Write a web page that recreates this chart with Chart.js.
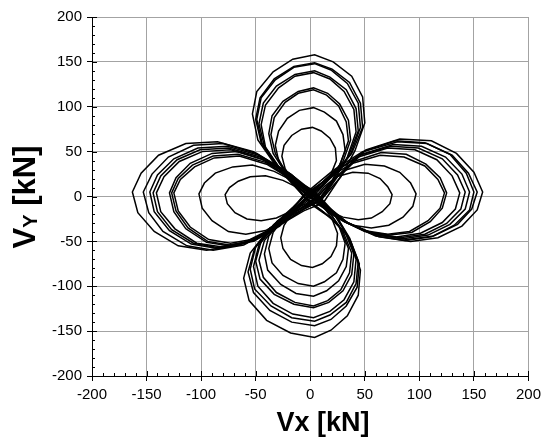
<!DOCTYPE html>
<html>
<head>
<meta charset="utf-8">
<script src="https://cdn.jsdelivr.net/npm/chart.js@4.4.1/dist/chart.umd.min.js"></script>
<style>
  html, body { margin: 0; padding: 0; background: #fff; }
</style>
</head>
<body>
<canvas id="grafico" width="546" height="448"></canvas>
<script>
// ── Ejes ─────────────────────────────────────
const ejeMin = -200;
const ejeMax = 200;
const pasoMayor = 50;

// ── Ciclos horizontales (Vx dominante), [Vx, Vy] en kN ──
const h1 = [[3,-3],[13,11],[24,22],[39,27],[53,26],[64,20],[71,11],[75,2],[73,-8],[66,-17],[56,-24],[44,-26],[30,-23],[17,-16],[8,-8],[3,-3],[-10,9],[-25,18],[-41,23],[-55,22],[-66,17],[-74,10],[-78,2],[-76,-8],[-69,-18],[-58,-25],[-45,-27],[-31,-24],[-17,-16],[-4,-8],[3,-3]];
const h2 = [[6,-2],[18,15],[31,29],[50,36],[68,34],[82,27],[92,15],[97,3],[94,-11],[85,-23],[72,-32],[56,-35],[39,-32],[21,-21],[11,-9],[6,-2],[-12,15],[-33,28],[-53,35],[-71,33],[-87,26],[-97,15],[-102,3],[-99,-13],[-90,-27],[-75,-39],[-59,-42],[-41,-38],[-22,-25],[-5,-10],[6,-2]];
const h3 = [[-2,2],[17,22],[39,37],[64,46],[86,44],[105,34],[117,19],[123,4],[119,-13],[108,-27],[91,-39],[71,-42],[49,-38],[27,-25],[9,-8],[-2,2],[-20,21],[-40,36],[-65,45],[-88,43],[-106,33],[-119,19],[-125,4],[-121,-16],[-110,-34],[-93,-48],[-73,-52],[-50,-47],[-28,-31],[-11,-10],[-2,2]];
const h4 = [[8,-5],[23,20],[40,39],[65,49],[88,47],[106,36],[119,21],[125,4],[121,-13],[110,-28],[93,-40],[73,-43],[50,-39],[28,-26],[14,-11],[8,-5],[-15,19],[-41,38],[-66,47],[-89,45],[-108,35],[-121,20],[-127,4],[-123,-16],[-112,-35],[-94,-50],[-74,-54],[-51,-49],[-28,-32],[-6,-14],[8,-5]];
const h5 = [[1,4],[21,27],[44,44],[71,54],[96,52],[116,41],[130,23],[137,4],[133,-14],[121,-29],[101,-41],[79,-45],[55,-41],[30,-27],[11,-8],[1,4],[-18,25],[-41,40],[-67,50],[-90,48],[-110,37],[-123,21],[-129,4],[-125,-17],[-114,-36],[-95,-51],[-75,-55],[-52,-50],[-28,-33],[-9,-10],[1,4]];
const h6 = [[10,-4],[26,24],[45,46],[74,56],[99,54],[121,42],[135,24],[142,5],[138,-14],[125,-30],[105,-42],[82,-46],[57,-41],[31,-28],[16,-12],[10,-4],[-16,22],[-45,42],[-73,52],[-99,50],[-120,39],[-134,22],[-141,4],[-137,-17],[-124,-36],[-104,-52],[-82,-56],[-56,-50],[-31,-34],[-6,-14],[10,-4]];
const h7 = [[-4,-2],[20,26],[47,47],[76,58],[102,56],[124,44],[139,25],[146,5],[142,-14],[128,-31],[108,-43],[85,-47],[58,-42],[32,-28],[10,-11],[-4,-2],[-24,24],[-46,44],[-75,54],[-101,52],[-122,41],[-137,23],[-144,4],[-140,-17],[-127,-37],[-107,-52],[-84,-57],[-58,-51],[-32,-34],[-14,-14],[-4,-2]];
const h8 = [[5,3],[25,29],[49,50],[80,61],[107,59],[130,46],[145,26],[153,5],[148,-14],[135,-31],[113,-44],[89,-48],[61,-43],[34,-29],[14,-10],[5,3],[-20,27],[-47,46],[-76,56],[-103,54],[-125,42],[-140,24],[-147,5],[-143,-17],[-129,-38],[-109,-53],[-85,-58],[-59,-52],[-32,-35],[-10,-12],[5,3]];
const h9 = [[12,-7],[30,26],[51,52],[82,64],[111,62],[134,48],[150,27],[158,5],[153,-15],[139,-33],[117,-46],[92,-50],[63,-45],[35,-30],[19,-14],[12,-7],[-17,24],[-49,48],[-80,59],[-107,57],[-130,44],[-145,25],[-153,5],[-148,-18],[-135,-39],[-113,-55],[-89,-60],[-61,-54],[-34,-36],[-6,-16],[12,-7]];
const h10 = [[-5,3],[21,29],[48,50],[78,62],[105,60],[128,47],[143,26],[150,5],[146,-15],[132,-32],[111,-45],[87,-49],[60,-44],[33,-29],[10,-10],[-5,3],[-26,29],[-52,50],[-85,61],[-114,59],[-139,46],[-155,26],[-163,5],[-158,-18],[-143,-39],[-121,-55],[-95,-60],[-65,-54],[-36,-36],[-15,-12],[-5,3]];

// ── Ciclos verticales (Vy dominante) ─────────
const v1 = [[2,2],[12,13],[19,25],[24,40],[23,54],[18,65],[10,73],[2,77],[-8,75],[-17,68],[-24,57],[-26,45],[-23,31],[-16,17],[-5,7],[2,2],[12,-11],[20,-25],[25,-41],[24,-55],[19,-67],[11,-75],[2,-79],[-8,-77],[-18,-70],[-25,-58],[-27,-46],[-24,-32],[-16,-17],[-5,-5],[2,2]];
const v2 = [[-4,-3],[12,13],[26,32],[32,51],[30,69],[24,84],[13,94],[3,99],[-10,96],[-21,87],[-29,73],[-32,57],[-29,40],[-19,22],[-9,6],[-4,-3],[12,-17],[26,-32],[32,-52],[30,-70],[24,-85],[13,-95],[3,-100],[-11,-97],[-25,-88],[-35,-74],[-38,-58],[-34,-40],[-23,-22],[-10,-10],[-4,-3]];
const v3 = [[6,-6],[19,15],[28,38],[35,62],[33,83],[26,101],[15,113],[3,119],[-11,115],[-23,105],[-33,88],[-36,69],[-32,48],[-22,26],[-5,7],[6,-6],[19,-20],[28,-36],[35,-58],[33,-78],[26,-94],[15,-105],[3,-111],[-13,-108],[-27,-98],[-39,-82],[-42,-64],[-38,-44],[-25,-24],[-6,-12],[6,-6]];
const v4 = [[-2,5],[16,20],[30,39],[37,63],[35,85],[27,103],[16,115],[3,121],[-11,117],[-25,106],[-35,90],[-38,70],[-34,48],[-23,27],[-9,12],[-2,5],[16,-15],[30,-39],[38,-63],[36,-85],[28,-104],[16,-116],[3,-122],[-14,-118],[-31,-107],[-43,-90],[-47,-71],[-42,-49],[-28,-27],[-11,-7],[-2,5]];
const v5 = [[9,-2],[23,20],[34,44],[42,72],[40,97],[31,117],[18,131],[3,138],[-14,134],[-29,121],[-41,102],[-45,80],[-41,55],[-27,30],[-5,10],[9,-2],[22,-20],[32,-40],[40,-64],[38,-87],[30,-105],[17,-118],[3,-124],[-15,-120],[-33,-109],[-46,-92],[-50,-72],[-45,-50],[-30,-27],[-6,-11],[9,-2]];
const v6 = [[0,-8],[20,17],[35,45],[44,73],[42,98],[33,119],[18,133],[4,140],[-14,136],[-31,123],[-43,104],[-47,81],[-42,56],[-28,31],[-10,7],[0,-8],[19,-24],[34,-43],[42,-70],[40,-95],[31,-115],[18,-128],[3,-135],[-16,-131],[-34,-119],[-48,-100],[-52,-78],[-47,-54],[-31,-30],[-11,-15],[0,-8]];
const v7 = [[4,6],[23,25],[37,47],[46,77],[44,104],[34,126],[19,141],[4,148],[-15,144],[-32,130],[-45,110],[-49,86],[-44,59],[-29,33],[-9,15],[4,6],[22,-18],[35,-44],[44,-72],[42,-97],[33,-118],[18,-132],[4,-139],[-17,-135],[-36,-122],[-51,-103],[-55,-81],[-50,-56],[-33,-31],[-10,-8],[4,6]];
const v8 = [[-6,0],[19,22],[38,48],[48,77],[46,104],[36,127],[20,142],[4,149],[-15,145],[-33,131],[-46,110],[-50,86],[-45,60],[-30,33],[-14,12],[-6,0],[17,-22],[36,-46],[45,-75],[43,-101],[33,-122],[19,-137],[4,-144],[-17,-140],[-37,-127],[-52,-107],[-57,-84],[-51,-58],[-34,-32],[-16,-12],[-6,0]];
const v9 = [[10,-4],[28,22],[41,51],[50,82],[48,111],[38,134],[21,150],[4,158],[-16,153],[-34,139],[-49,117],[-53,92],[-48,63],[-32,35],[-7,11],[10,-4],[26,-26],[37,-50],[46,-82],[44,-110],[34,-133],[19,-149],[4,-157],[-18,-152],[-40,-138],[-56,-116],[-61,-91],[-55,-63],[-37,-35],[-8,-15],[10,-4]];

const ciclos = [h1, v1, h2, v2, h3, v3, h4, v4, h5, v5, h6, v6, h7, v7, h8, v8, h9, v9, h10];

const fuente = "'Liberation Sans', Arial, sans-serif";

// Marcas interiores (menores cada 10, mayores cruzando el eje) y títulos con subíndice
const extrasEjes = {
    id: 'extrasEjes',
    afterDraw(chart) {
        const { ctx, chartArea: a, scales: { x, y } } = chart;
        ctx.save();
        ctx.strokeStyle = '#000';
        ctx.lineWidth = 1;
        ctx.beginPath();
        for (let v = ejeMin; v <= ejeMax; v += 10) {
            const largo = v % pasoMayor === 0 ? 5 : 3;
            const px = Math.round(x.getPixelForValue(v)) + 0.5;
            ctx.moveTo(px, a.bottom);
            ctx.lineTo(px, a.bottom - largo);
            const py = Math.round(y.getPixelForValue(v)) + 0.5;
            ctx.moveTo(a.left, py);
            ctx.lineTo(a.left + largo, py);
        }
        ctx.stroke();

        ctx.fillStyle = '#000';
        ctx.textBaseline = 'alphabetic';

        // Título X
        ctx.font = `bold 27px ${fuente}`;
        ctx.textAlign = 'center';
        ctx.fillText('Vx [kN]', 323, 431);

        // Título Y, girado
        ctx.translate(35, 197);
        ctx.rotate(-Math.PI / 2);
        ctx.textAlign = 'left';
        const partes = [
            { t: 'V', f: `bold 31px ${fuente}`, dy: 0 },
            { t: 'Y', f: `bold 20px ${fuente}`, dy: 2 },
            { t: ' [kN]', f: `bold 31px ${fuente}`, dy: 0 },
        ];
        let total = 0;
        partes.forEach(p => { ctx.font = p.f; p.w = ctx.measureText(p.t).width; total += p.w; });
        let cx = -total / 2;
        partes.forEach(p => {
            ctx.font = p.f;
            ctx.fillText(p.t, cx, p.dy);
            cx += p.w;
        });
        ctx.restore();
    }
};

const ejeComun = (lado) => ({
    type: 'linear',
    min: ejeMin,
    max: ejeMax,
    ticks: {
        stepSize: pasoMayor,
        font: { family: fuente, size: 15 },
        color: '#000',
        padding: 5,
    },
    grid: {
        color: '#a3a3a3',
        lineWidth: 1,
        tickLength: 5,
        tickColor: '#000',
    },
    border: { color: '#000', width: 1 },
    afterFit: (escala) => {
        if (lado === 'x') escala.height = 72;
        else escala.width = 92;
    }
});

new Chart(document.getElementById('grafico'), {
    type: 'scatter',
    data: {
        datasets: ciclos.map(c => ({
            data: c.map(([vx, vy]) => ({ x: vx, y: vy })),
            showLine: true,
            borderColor: '#000',
            borderWidth: 1.5,
            pointRadius: 0,
            tension: 0,
            fill: false,
        }))
    },
    options: {
        responsive: false,
        animation: false,
        layout: { padding: { top: 17, right: 14, left: 0, bottom: 0 } },
        plugins: {
            legend: { display: false },
            tooltip: { enabled: false },
        },
        scales: {
            x: ejeComun('x'),
            y: ejeComun('y'),
        }
    },
    plugins: [extrasEjes]
});
</script>
</body>
</html>
